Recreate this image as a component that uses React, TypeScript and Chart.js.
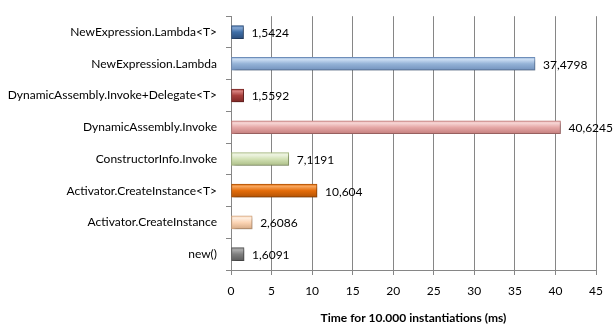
import React, { useEffect, useRef } from "react";
import { Chart, registerables } from "chart.js";

Chart.register(...registerables);

const categories = [
  "NewExpression.Lambda<T>",
  "NewExpression.Lambda",
  "DynamicAssembly.Invoke+Delegate<T>",
  "DynamicAssembly.Invoke",
  "ConstructorInfo.Invoke",
  "Activator.CreateInstance<T>",
  "Activator.CreateInstance",
  "new()",
];
const times = [1.5424, 37.4798, 1.5592, 40.6245, 7.1191, 10.604, 2.6086, 1.6091];
const xTitle = "Time for 10.000 instantiations (ms)";

const lightColors = ["#86A8D4", "#CADCF2", "#D6807D", "#F7D6D5", "#EEF4E2", "#F7A55C", "#FEEEE0", "#ACACAC"];
const midColors = ["#3F6FA8", "#95B3D7", "#A8403D", "#E6A9A8", "#D3E2B6", "#E46C0A", "#FCD5B5", "#7F7F7F"];
const darkColors = ["#2A4C7A", "#6F8FBB", "#7A2624", "#C27B7A", "#A9BC83", "#B05205", "#D4A882", "#595959"];

const FONT = "Lato, 'Liberation Sans', Arial, sans-serif";
const FS = 12;

export default function App() {
  const ref = useRef<HTMLCanvasElement>(null);
  useEffect(() => {
    if (!ref.current) return;
    const half = 7;
    const chart = new Chart(ref.current, {
      type: "bar",
      data: {
        labels: categories,
        datasets: [
          {
            data: times,
            barThickness: 13,
            borderWidth: 1,
            borderSkipped: false,
            borderColor: darkColors,
            backgroundColor: (c: any) => {
              const ch = c.chart;
              const i = c.dataIndex;
              const y = ch.scales && ch.scales.y;
              if (i === undefined || !y) return midColors[0];
              const cy = y.getPixelForValue(i);
              if (!Number.isFinite(cy)) return midColors[i];
              const g = ch.ctx.createLinearGradient(0, cy - half, 0, cy + half);
              g.addColorStop(0, midColors[i]);
              g.addColorStop(0.2, lightColors[i]);
              g.addColorStop(0.5, midColors[i]);
              g.addColorStop(1, darkColors[i]);
              return g;
            },
          },
        ],
      },
      options: {
        indexAxis: "y",
        animation: false,
        responsive: false,
        maintainAspectRatio: false,
        layout: { padding: { left: 0, right: 19, top: 8, bottom: 0 } },
        plugins: { legend: { display: false }, tooltip: { enabled: false } },
        scales: {
          x: {
            min: 0,
            max: 45,
            ticks: { stepSize: 5, color: "#000", font: { family: FONT, size: FS }, padding: 9 },
            grid: { color: "#868686", tickLength: 5, drawOnChartArea: true },
            border: { color: "#868686" },
            title: {
              display: true,
              text: xTitle,
              color: "#000",
              font: { family: FONT, size: FS, weight: "bold" },
              padding: { top: 4, bottom: 6 },
            },
            afterFit: (s: any) => {
              s.height = 61;
            },
          },
          y: {
            ticks: { color: "#000", font: { family: FONT, size: FS }, padding: 9 },
            grid: { color: "#868686", tickLength: 5, drawOnChartArea: false, offset: true },
            border: { color: "#868686" },
            afterFit: (s: any) => {
              s.width = 231;
            },
          },
        },
      },
      plugins: [
        {
          id: "shadowAndLabels",
          beforeDatasetsDraw(ch: any) {
            const ctx = ch.ctx;
            ctx.save();
            ctx.shadowColor = "rgba(0,0,0,0.3)";
            ctx.shadowOffsetX = 2;
            ctx.shadowOffsetY = 2;
            ctx.shadowBlur = 3;
          },
          afterDatasetsDraw(ch: any) {
            const ctx = ch.ctx;
            ctx.restore();
            ctx.save();
            ctx.font = `${FS}px ${FONT}`;
            ctx.fillStyle = "#000";
            ctx.textAlign = "left";
            ctx.textBaseline = "middle";
            const meta = ch.getDatasetMeta(0);
            meta.data.forEach((el: any, i: number) => {
              const label = String(times[i]).replace(".", ",");
              ctx.fillText(label, el.x + 8, el.y + 1);
            });
            ctx.restore();
          },
        },
      ],
    } as any);
    return () => chart.destroy();
  }, []);
  return (
    <div style={{ position: "absolute", left: 0, top: 0, width: 615, height: 331, background: "#fff" }}>
      <canvas ref={ref} width={615} height={331} style={{ display: "block" }} />
    </div>
  );
}
